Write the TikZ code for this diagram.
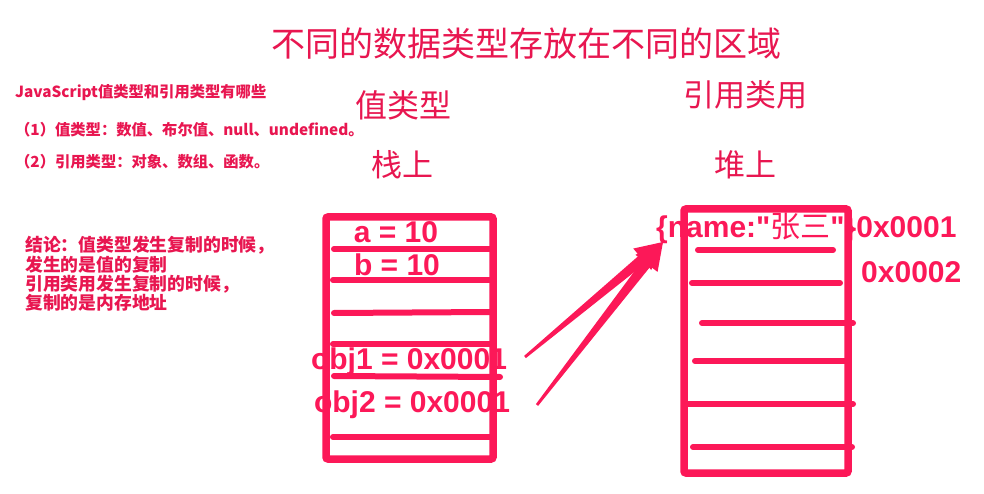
\documentclass[tikz,border=0pt]{standalone}
\usepackage{fontspec}
\setmainfont{Liberation Sans}
\newfontfamily\codefont{Liberation Sans}
\newfontfamily\cjk{Noto Sans CJK SC}
\usetikzlibrary{calc}
\definecolor{pk}{RGB}{252,24,88}
\definecolor{pktxt}{RGB}{232,22,80}
\tikzset{
  boxline/.style={draw=pk, line width=7.5pt, rounded corners=2pt},
  rowline/.style={draw=pk, line width=6pt, line cap=round},
  bigcjk/.style={text=pktxt, font=\cjk\fontsize{32}{32}\selectfont, inner sep=0pt},
  codetxt/.style={text=pk, font=\codefont\bfseries\fontsize{30}{30}\selectfont, inner sep=0pt, anchor=base},
  notetxt/.style={text=pktxt, font=\cjk\bfseries\fontsize{15.3}{15.3}\selectfont, inner sep=0pt, anchor=west},
  concltxt/.style={text=pktxt, font=\cjk\bfseries\fontsize{17.8}{19.4}\selectfont, inner sep=0pt, anchor=west, align=left}
}
\newcommand\taperarrow[2]{%
  \path ($(#2)!27pt!(#1)$) coordinate (hb);
  \fill[pk] ($(#1)!1.4pt!90:(#2)$) -- ($(hb)!5pt!90:(#2)$) -- ($(hb)!14pt!90:(#2)$) -- (#2)
     -- ($(hb)!14pt!-90:(#2)$) -- ($(hb)!5pt!-90:(#2)$) -- ($(#1)!1.4pt!-90:(#2)$) -- cycle;
}
\begin{document}
\begin{tikzpicture}[x=1pt,y=-1pt]
\useasboundingbox[fill=white] (0,0) rectangle (984,494);

% left (stack) box
\draw[boxline] (326,217) rectangle (493,459);
\draw[rowline] (334,249) -- (490,249);
\draw[rowline] (333,280) -- (490,280);
\draw[rowline] (334,313) -- (490,312);
\draw[rowline] (333,344) -- (490,344);
\draw[rowline] (334,376) -- (500,377);
\draw[rowline] (333,437) -- (490,437);

% right (heap) box
\draw[boxline] (684,209) rectangle (848,473);
\draw[rowline] (698,250) -- (833,250);
\draw[rowline] (692,283) -- (840,283);
\draw[rowline] (702,323) -- (853,323);
\draw[rowline] (695,361) -- (845,361);
\draw[rowline] (688,404) -- (853,404);
\draw[rowline] (693,447) -- (852,447);

% arrows
\coordinate (tip) at (663,242);
\coordinate (t1) at (525,357);
\coordinate (t2) at (537,405);
\taperarrow{t1}{tip}
\taperarrow{t2}{tip}

% headings
\node[bigcjk, font=\cjk\fontsize{34}{34}\selectfont] (title) at (526,44) {不同的数据类型存放在不同的区域};
\node[bigcjk] (valtype) at (403,105) {值类型};
\node[bigcjk, font=\cjk\fontsize{31}{31}\selectfont] (stack) at (402,165) {栈上};
\node[bigcjk, font=\cjk\fontsize{31}{31}\selectfont] (reftype) at (745,95) {引用类用};
\node[bigcjk, font=\cjk\fontsize{31}{31}\selectfont] (heap) at (745,165) {堆上};

% notes
\node[notetxt] (n1) at (15,93) {JavaScript值类型和引用类型有哪些};
\node[notetxt] (n2) at (15,130) {（1）值类型：数值、布尔值、null、undefined。};
\node[notetxt] (n3) at (15,162) {（2）引用类型：对象、数组、函数。};
\node[concltxt] (concl) at (25,274) {结论：值类型发生复制的时候，\\发生的是值的复制\\引用类用发生复制的时候，\\复制的是内存地址};

% stack values
\node[codetxt] (a) at (396,243) {a = 10};
\node[codetxt] (b) at (397,275) {b = 10};
\node[codetxt] (obj1) at (409,369) {obj1 = 0x0001};
\node[codetxt] (obj2) at (412,412) {obj2 = 0x0001};

% heap values
\node[codetxt, anchor=base west] (objval) at (656,237) {\{name:"{\cjk\mdseries 张三}"\}0x0001};
\node[codetxt, anchor=base west] (addr2) at (861,282) {0x0002};
\end{tikzpicture}
\end{document}
